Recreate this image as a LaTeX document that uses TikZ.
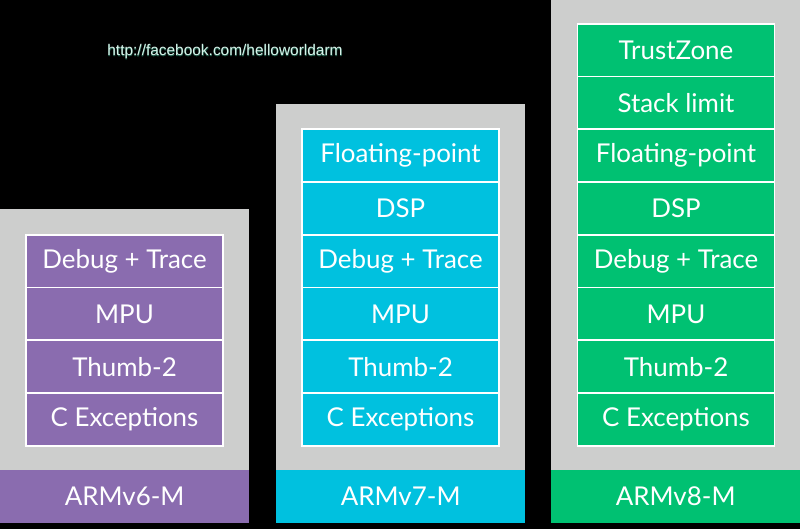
\documentclass[tikz,border=0pt]{standalone}
\usepackage{fontspec}
\setmainfont{Lato}
\newfontfamily\urlfont{Liberation Sans}
\newfontfamily\urlglowfont[FakeBold=2.5]{Liberation Sans}
\definecolor{panelgray}{HTML}{CDCECD}
\definecolor{armpurple}{HTML}{8A6CAF}
\definecolor{armcyan}{HTML}{00C1DF}
\definecolor{armgreen}{HTML}{00C172}
\definecolor{urlglow}{HTML}{1F5A48}
\definecolor{urltext}{HTML}{D8F2EA}
\newcommand{\glowtext}[1]{\makebox[0pt][l]{\color{urlglow}\urlglowfont #1}{\color{urltext}\urlfont #1}}
\tikzset{
  panel/.style={fill=panelgray, draw=none, anchor=north west, minimum width=249bp, inner sep=0},
  feat/.style={draw=white, line width=1.6bp, anchor=north, minimum width=197bp, minimum height=52.7bp,
    inner sep=0, text=white, font=\fontsize{26}{30}\selectfont},
  archbar/.style={draw=none, anchor=north west, minimum width=249bp, minimum height=53bp,
    inner sep=0, text=white, font=\fontsize{26}{30}\selectfont},
}
\begin{document}
\begin{tikzpicture}[x=1bp,y=-1bp]
\fill[black] (0,0) rectangle (800,529);
\useasboundingbox (0,0) rectangle (800,529);
% panels
\node[panel, minimum height=261bp] (p1) at (0,209) {};
\node[panel, minimum height=366bp] (p2) at (276,104) {};
\node[panel, minimum height=470bp] (p3) at (551,0) {};
% ARMv6-M
\foreach \t [count=\i from 0] in {Debug + Trace, MPU, Thumb-2, C Exceptions}
  \node[feat, fill=armpurple] (a\i) at (124.5, 234+\i*52.75) {\t};
% ARMv7-M
\foreach \t [count=\i from 0] in {Floating-point, DSP, Debug + Trace, MPU, Thumb-2, C Exceptions}
  \node[feat, fill=armcyan] (b\i) at (400.5, 128.5+\i*52.75) {\t};
% ARMv8-M
\foreach \t [count=\i from 0] in {TrustZone, Stack limit, Floating-point, DSP, Debug + Trace, MPU, Thumb-2, C Exceptions}
  \node[feat, fill=armgreen] (c\i) at (676, 23+\i*52.75) {\t};
% bars
\node[archbar, fill=armpurple] (l1) at (0,470) {ARMv6-M};
\node[archbar, fill=armcyan] (l2) at (276,470) {ARMv7-M};
\node[archbar, fill=armgreen] (l3) at (551,470) {ARMv8-M};
% url
\node[font=\fontsize{15.5}{18}\selectfont, inner sep=0] (url) at (225,52) {\glowtext{http://facebook.com/helloworldarm}};
\end{tikzpicture}
\end{document}
